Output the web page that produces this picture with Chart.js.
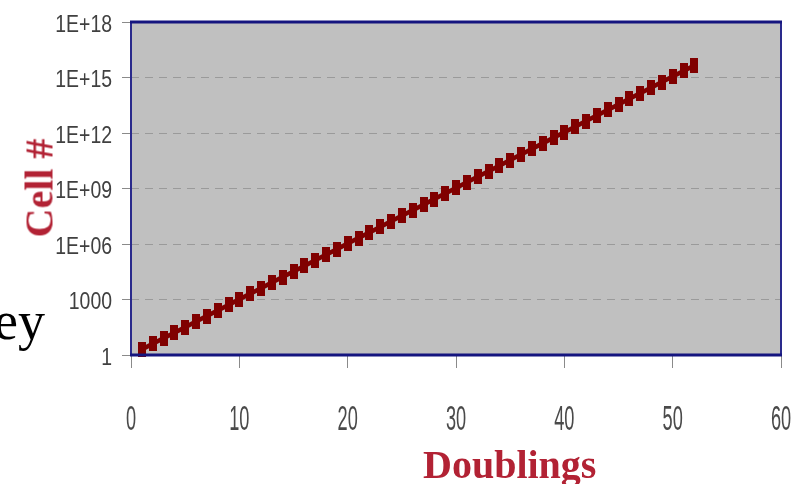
<!DOCTYPE html>
<html>
<head>
<meta charset="utf-8">
<script src="https://cdn.jsdelivr.net/npm/chart.js@4.4.1/dist/chart.umd.min.js"></script>
<style>
    html, body { margin: 0; padding: 0; background: #fff; }
    #wrap { position: relative; width: 806px; height: 484px; overflow: hidden; }
    #chart { position: absolute; left: 0; top: 0; }
    .slide-text { position: absolute; font-family: 'Liberation Serif', 'Times New Roman', serif; white-space: nowrap; }
    #behind { left: -6px; top: 290px; font-size: 54px; color: #000; }
    #ytitle { left: 39px; top: 188px; font-size: 40px; font-weight: bold; color: #b22234;
              transform: translate(-50%, -50%) rotate(-90deg); }
    #xtitle { left: 423px; top: 445px; font-size: 40px; line-height: 40px; font-weight: bold; color: #b22234; }
</style>
</head>
<body>
<div id="wrap">
    <div class="slide-text" id="behind">ey</div>
    <canvas id="chart" width="806" height="484"></canvas>
    <div class="slide-text" id="ytitle">Cell #</div>
    <div class="slide-text" id="xtitle">Doublings</div>
</div>
<script>
// doublings on x, cell count on y (log)
const doublings = [
    1, 2, 3, 4, 5, 6, 7, 8, 9, 10,
    11, 12, 13, 14, 15, 16, 17, 18, 19, 20,
    21, 22, 23, 24, 25, 26, 27, 28, 29, 30,
    31, 32, 33, 34, 35, 36, 37, 38, 39, 40,
    41, 42, 43, 44, 45, 46, 47, 48, 49, 50,
    51, 52,
];
const cells = [
    2, 4, 8, 16, 32, 64, 128, 256, 512, 1024,
    2048, 4096, 8192, 16384, 32768, 65536, 131072, 262144, 524288, 1048576,
    2097152, 4194304, 8388608, 16777216, 33554432, 67108864, 134217728, 268435456, 536870912, 1073741824,
    2147483648, 4294967296, 8589934592, 17179869184, 34359738368, 68719476736, 137438953472, 274877906944, 549755813888, 1099511627776,
    2199023255552, 4398046511104, 8796093022208, 17592186044416, 35184372088832, 70368744177664, 140737488355328, 281474976710656, 562949953421312, 1125899906842624,
    2251799813685248, 4503599627370496,
];
const yTickValues = [1, 1e3, 1e6, 1e9, 1e12, 1e15, 1e18];
const yTickLabels = ['1', '1000', '1E+06', '1E+09', '1E+12', '1E+15', '1E+18'];
const xTickValues = [0, 10, 20, 30, 40, 50, 60];
const xTickLabels = ['0', '10', '20', '30', '40', '50', '60'];

const RED = '#800000';
const NAVY = '#15157f';
const LABEL_FONT = "'Liberation Sans', Arial, sans-serif";

// tall marker, like the squashed excel squares
const marker = document.createElement('canvas');
marker.width = 8;
marker.height = 15;
const mctx = marker.getContext('2d');
mctx.fillStyle = RED;
mctx.fillRect(0, 0, 8, 15);

const plotFrame = {
    id: 'plotFrame',
    beforeDraw(chart) {
        const { ctx, chartArea: a } = chart;
        ctx.save();
        ctx.fillStyle = '#c0c0c0';
        ctx.fillRect(a.left, a.top, a.right - a.left, a.bottom - a.top);
        ctx.restore();
    },
    afterDatasetsDraw(chart) {
        const { ctx, chartArea: a } = chart;
        ctx.save();
        ctx.strokeStyle = '#2a2a8c';
        ctx.lineWidth = 2;
        ctx.beginPath();
        ctx.moveTo(a.left, a.top);
        ctx.lineTo(a.left, a.bottom);
        ctx.moveTo(a.right, a.top);
        ctx.lineTo(a.right, a.bottom);
        ctx.stroke();
        ctx.strokeStyle = NAVY;
        ctx.lineWidth = 3;
        ctx.beginPath();
        ctx.moveTo(a.left - 1, a.top);
        ctx.lineTo(a.right + 1, a.top);
        ctx.moveTo(a.left - 1, a.bottom);
        ctx.lineTo(a.right + 1, a.bottom);
        ctx.stroke();
        ctx.restore();
    },
};

// the tick labels in the original are squeezed sideways; no condensed font here,
// so draw them at the scale's own tick pixels with a horizontal squeeze
const squeezedLabels = {
    id: 'squeezedLabels',
    afterDraw(chart) {
        const { ctx, chartArea: a, scales } = chart;
        ctx.save();
        ctx.fillStyle = '#4a4a4a';

        ctx.font = '35px ' + LABEL_FONT;
        ctx.textAlign = 'center';
        ctx.textBaseline = 'alphabetic';
        xTickValues.forEach((v, i) => {
            ctx.save();
            ctx.translate(scales.x.getPixelForValue(v), a.bottom + 75);
            ctx.scale(0.52, 1);
            ctx.fillText(xTickLabels[i], 0, 0);
            ctx.restore();
        });

        ctx.fillStyle = '#404040';
        ctx.font = '24px ' + LABEL_FONT;
        ctx.textAlign = 'right';
        ctx.textBaseline = 'middle';
        yTickValues.forEach((v, i) => {
            ctx.save();
            ctx.translate(a.left - 19, scales.y.getPixelForValue(v) + 3);
            ctx.scale(0.81, 1);
            ctx.fillText(yTickLabels[i], 0, 0);
            ctx.restore();
        });
        ctx.restore();
    },
};

new Chart(document.getElementById('chart'), {
    type: 'line',
    data: {
        datasets: [{
            data: doublings.map((d, i) => ({ x: d, y: cells[i] })),
            borderColor: RED,
            borderWidth: 4.5,
            pointStyle: marker,
            pointRadius: 5,
            clip: false,
        }],
    },
    options: {
        responsive: false,
        animation: false,
        layout: { padding: { top: 22, right: 25, left: 0, bottom: 0 } },
        plugins: {
            legend: { display: false },
            tooltip: { enabled: false },
        },
        scales: {
            x: {
                type: 'linear',
                min: 0,
                max: 60,
                afterBuildTicks: (s) => { s.ticks = xTickValues.map(v => ({ value: v })); },
                afterFit: (s) => { s.height = 129; s.paddingLeft = 0; s.paddingRight = 0; },
                grid: {
                    drawOnChartArea: false,
                    color: '#8a8a8a',
                    tickLength: 13,
                    lineWidth: 1,
                },
                border: { display: false },
                ticks: { display: false },
            },
            y: {
                type: 'logarithmic',
                min: 1,
                max: 1e18,
                afterBuildTicks: (s) => { s.ticks = yTickValues.map(v => ({ value: v })); },
                afterFit: (s) => { s.width = 131; s.paddingTop = 0; s.paddingBottom = 0; },
                grid: {
                    color: (c) => (c.tick && (c.tick.value === 1 || c.tick.value === 1e18)) ? 'rgba(0,0,0,0)' : '#9a9a9a',
                    tickColor: '#8a8a8a',
                    tickBorderDash: [1, 0],
                    tickLength: 9,
                },
                border: { display: false, dash: [8, 6] },
                ticks: { display: false },
            },
        },
    },
    plugins: [plotFrame, squeezedLabels],
});
</script>
</body>
</html>
